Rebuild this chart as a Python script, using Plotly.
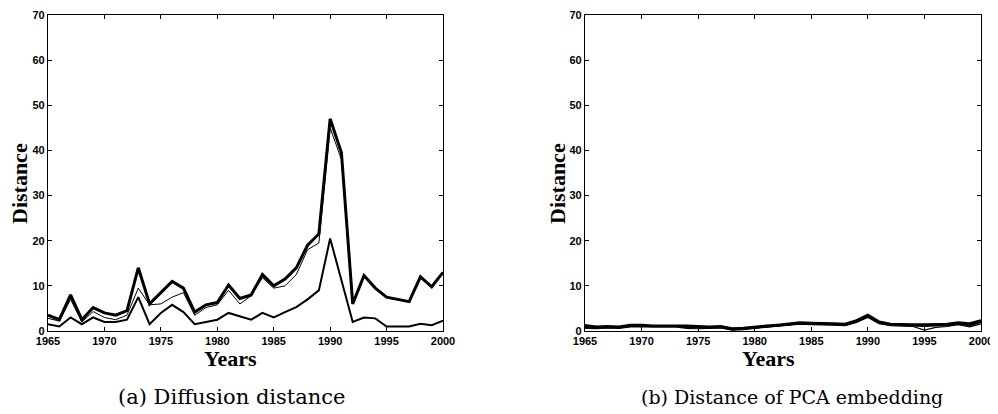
import plotly.graph_objects as go

years = list(range(1965, 2001))

# Panel (a): diffusion distance
diff_top = [3.5, 2.5, 8.0, 2.5, 5.2, 4.0, 3.5, 4.5, 14.0, 6.0, 8.5, 11.0, 9.5, 4.2, 5.8, 6.3,
            10.2, 7.2, 8.0, 12.5, 10.0, 11.5, 14.0, 19.0, 21.5, 47.0, 39.5, 6.0, 12.3, 9.5,
            7.5, 7.0, 6.5, 12.0, 9.8, 13.0]
diff_mid = [2.8, 2.2, 7.0, 2.0, 4.3, 3.0, 2.5, 3.5, 9.5, 5.8, 6.0, 7.5, 8.5, 3.5, 5.2, 5.8,
            9.0, 6.0, 7.8, 11.8, 9.5, 10.0, 12.5, 18.0, 19.5, 45.0, 38.0, 6.0, 12.2, 9.4,
            7.4, 6.9, 6.4, 11.8, 9.7, 12.8]
diff_low = [1.5, 1.0, 3.0, 1.5, 3.0, 2.0, 2.0, 2.5, 7.5, 1.5, 4.0, 5.8, 4.2, 1.5, 2.0, 2.5,
            4.0, 3.3, 2.5, 4.0, 3.0, 4.2, 5.3, 7.0, 9.0, 20.5, 11.0, 2.0, 3.0, 2.8,
            1.0, 1.0, 1.0, 1.6, 1.3, 2.3]

# Panel (b): PCA embedding distance
pca_a = [1.2, 0.9, 1.0, 0.9, 1.3, 1.3, 1.1, 1.1, 1.2, 1.1, 1.0, 0.9, 1.0, 0.5, 0.6, 0.9,
         1.1, 1.3, 1.5, 1.8, 1.7, 1.7, 1.6, 1.5, 2.3, 3.5, 2.0, 1.5, 1.4, 1.4,
         1.4, 1.5, 1.5, 1.8, 1.6, 2.3]
pca_b = [0.6, 0.5, 0.7, 0.6, 0.9, 0.9, 0.8, 0.8, 0.9, 0.6, 0.5, 0.6, 0.7, 0.2, 0.3, 0.6,
         0.8, 1.0, 1.2, 1.5, 1.4, 1.4, 1.3, 1.2, 1.9, 3.0, 1.6, 1.2, 1.1, 1.0,
         0.2, 0.8, 1.0, 1.4, 0.9, 1.6]
pca_c = [0.9, 0.7, 0.9, 0.8, 1.1, 1.1, 1.0, 1.0, 1.1, 0.9, 0.8, 0.8, 0.9, 0.4, 0.5, 0.8,
         1.0, 1.2, 1.4, 1.7, 1.6, 1.6, 1.5, 1.4, 2.1, 3.3, 1.8, 1.4, 1.3, 1.2,
         1.1, 1.2, 1.3, 1.6, 1.2, 2.0]

x_ticks = [1965, 1970, 1975, 1980, 1985, 1990, 1995, 2000]
y_ticks = [0, 10, 20, 30, 40, 50, 60, 70]

fig = go.Figure()

def add(x, y, w, xa, ya):
    fig.add_trace(go.Scatter(x=x, y=y, mode="lines", line=dict(color="black", width=w),
                             xaxis=xa, yaxis=ya, showlegend=False, hoverinfo="skip"))

add(years, diff_low, 2.0, "x", "y")
add(years, diff_top, 3.0, "x", "y")
add(years, diff_mid, 1.0, "x", "y")

add(years, pca_b, 1.2, "x2", "y2")
add(years, pca_c, 2.0, "x2", "y2")
add(years, pca_a, 3.0, "x2", "y2")

# page body has an 8px margin: design in window pixels, shift by OFF
OFF = 8
W, H = 998 - OFF, 414 - OFF
def px(v): return (v - OFF) / W
def py(v): return 1 - (v - OFF) / H

tickfont = dict(family="Liberation Sans", size=11, color="black", weight="bold")
ax_common = dict(showline=True, linecolor="black", linewidth=1.2, mirror="allticks",
                 ticks="inside", ticklen=4, tickcolor="black", tickwidth=1,
                 showgrid=False, zeroline=False, tickfont=tickfont, automargin=False,
                 ticklabeloverflow="allow")

fig.update_layout(
    width=W, height=H,
    margin=dict(l=0, r=0, t=0, b=0),
    paper_bgcolor="white", plot_bgcolor="white",
    xaxis=dict(domain=[px(48), px(443)], range=[1965, 2000], tickvals=x_ticks,
               anchor="y", **ax_common),
    yaxis=dict(domain=[py(331), py(15)], range=[0, 70], tickvals=y_ticks,
               anchor="x", **ax_common),
    xaxis2=dict(domain=[px(585), px(981)], range=[1965, 2000], tickvals=x_ticks,
                anchor="y2", **ax_common),
    yaxis2=dict(domain=[py(331), py(15)], range=[0, 70], tickvals=y_ticks,
                anchor="x2", **ax_common),
)

title_font = dict(family="Liberation Serif", size=22, color="black", weight="bold")

ann = [
    dict(text="Distance", x=px(19), y=py(184), textangle=-90, font=title_font),
    dict(text="Years", x=px(230), y=py(358), font=title_font),
    dict(text="(a) Diffusion distance", x=px(232), y=py(397),
         font=dict(family="DejaVu Serif", size=21, color="black")),
    dict(text="Distance", x=px(557), y=py(184), textangle=-90, font=title_font),
    dict(text="Years", x=px(768), y=py(358), font=title_font),
    dict(text="(b) Distance of PCA embedding", x=px(792), y=py(397),
         font=dict(family="DejaVu Serif", size=19, color="black")),
]
for a in ann:
    fig.add_annotation(xref="paper", yref="paper", showarrow=False,
                       xanchor="center", yanchor="middle", **a)

fig.write_html("out.html")
